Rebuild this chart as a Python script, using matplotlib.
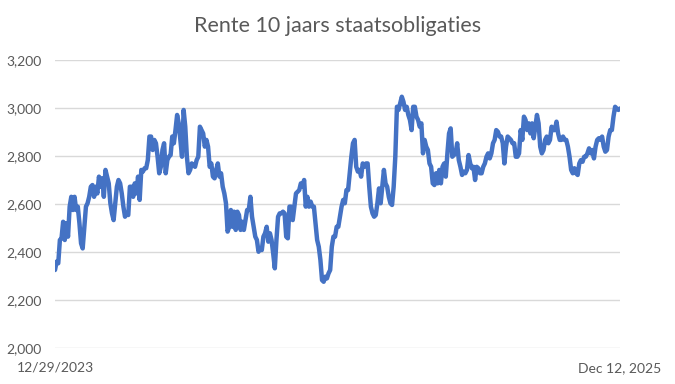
import matplotlib
matplotlib.use("Agg")
import matplotlib.pyplot as plt
from matplotlib.ticker import FuncFormatter

title = "Rente 10 jaars staatsobligaties"
start_label = "12/29/2023"
end_label = "Dec 12, 2025"

seg_2024a = [2325, 2360, 2353, 2450, 2457, 2526, 2450, 2520, 2464, 2589, 2630, 2575, 2630, 2575,
             2589, 2520, 2436, 2415, 2505, 2589, 2603, 2630, 2672, 2679, 2630, 2672, 2644, 2714,
             2672, 2707, 2630, 2742, 2714, 2686, 2603, 2561, 2533, 2603, 2672, 2700, 2686, 2644,
             2589, 2547, 2561, 2554, 2672, 2672, 2630, 2686, 2644, 2714, 2617, 2742, 2735, 2749,
             2749, 2783, 2881, 2881, 2825, 2867, 2853, 2797, 2728, 2755, 2825, 2853, 2728, 2783,
             2797, 2804, 2881, 2853, 2908, 2971, 2936, 2867]
seg_2024b = [2797, 2992, 2922, 2797, 2728, 2742, 2769, 2763, 2755, 2783, 2797, 2922, 2908, 2894,
             2839, 2867, 2839, 2755, 2769, 2714, 2707, 2742, 2769, 2714, 2728, 2672, 2644, 2603,
             2485, 2505, 2575, 2505, 2568, 2492, 2568, 2554, 2492, 2526, 2492, 2533, 2575, 2575,
             2630, 2547, 2505, 2464, 2450, 2401, 2415, 2408, 2464, 2478, 2505, 2443, 2478, 2450,
             2394, 2332, 2450, 2547, 2561, 2561, 2568, 2561, 2464, 2457, 2589, 2589, 2533, 2589,
             2644, 2651, 2658, 2686, 2672, 2700, 2589, 2630, 2589, 2610, 2589, 2589, 2520, 2450,
             2422, 2367, 2283, 2276, 2297, 2290, 2311, 2325, 2422, 2464, 2464, 2505, 2505, 2547,
             2589, 2617, 2603, 2658, 2658, 2728, 2797, 2853, 2867, 2755, 2735]
seg_2025a = [2742, 2714, 2769, 2755, 2769, 2769, 2672, 2589, 2561, 2547, 2554, 2603, 2665, 2603,
             2672, 2742, 2686, 2672, 2630, 2603, 2596, 2672, 2797, 3005, 2992, 3019, 3047, 3026,
             2992, 3005, 2971, 2950, 2908, 3005, 3005, 2964, 2950, 2922, 2936, 2811, 2867, 2839,
             2825, 2769, 2755, 2686, 2679, 2728, 2686, 2742, 2686, 2755, 2769, 2714, 2811, 2894,
             2915, 2797, 2804, 2811, 2853, 2783, 2755, 2721, 2735, 2728, 2742, 2804, 2769, 2749,
             2755, 2700, 2755, 2749, 2728, 2728, 2755, 2769, 2797, 2811, 2790, 2811, 2853, 2867,
             2908, 2901, 2881]
seg_2025b = [2881, 2853, 2769, 2839, 2881, 2874, 2867, 2853, 2853, 2797, 2797, 2811, 2908, 2867,
             2964, 2950, 2908, 2936, 2894, 2936, 2874, 2922, 2971, 2936, 2839, 2811, 2825, 2867,
             2881, 2853, 2867, 2922, 2908, 2908, 2943, 2894, 2867, 2867, 2881, 2867, 2867, 2839,
             2797, 2742, 2728, 2749, 2728, 2721, 2769, 2783, 2776, 2797, 2797, 2811, 2832, 2811,
             2825, 2790, 2839, 2867, 2874, 2867, 2881, 2839, 2818, 2825, 2881, 2908, 2908, 2964,
             3005, 2998, 2992, 2998]

values = seg_2024a + seg_2024b + seg_2025a + seg_2025b
yticks = [2000, 2200, 2400, 2600, 2800, 3000, 3200]

plt.rcParams['font.family'] = ['Lato', 'DejaVu Sans']

fig = plt.figure(figsize=(6.75, 3.84), dpi=100)
ax = fig.add_axes([55/675, 1-348/384, 565/675, 288/384])

ax.plot(range(len(values)), values, color='#4472C4', linewidth=3.2, solid_joinstyle='round',
        solid_capstyle='round', zorder=3)

ax.set_xlim(0, len(values) - 1)
ax.set_ylim(yticks[0], yticks[-1])
ax.set_yticks(yticks)
ax.yaxis.set_major_formatter(FuncFormatter(lambda v, p: f"{int(v):,}"))
ax.set_xticks([0, len(values) - 1])
ax.set_xticklabels([start_label, end_label])

ax.grid(axis='y', color='#D9D9D9', linewidth=1.0, zorder=0)
for s in ax.spines.values():
    s.set_visible(False)
ax.tick_params(axis='both', length=0, colors='#595959', labelsize=10)
ax.tick_params(axis='y', pad=9.4)
ax.tick_params(axis='x', pad=10)

fig.text(0.5, 1-26/384, title, ha='center', va='center', fontsize=15.5, color='#595959')

fig.savefig("out.png", dpi=100)
